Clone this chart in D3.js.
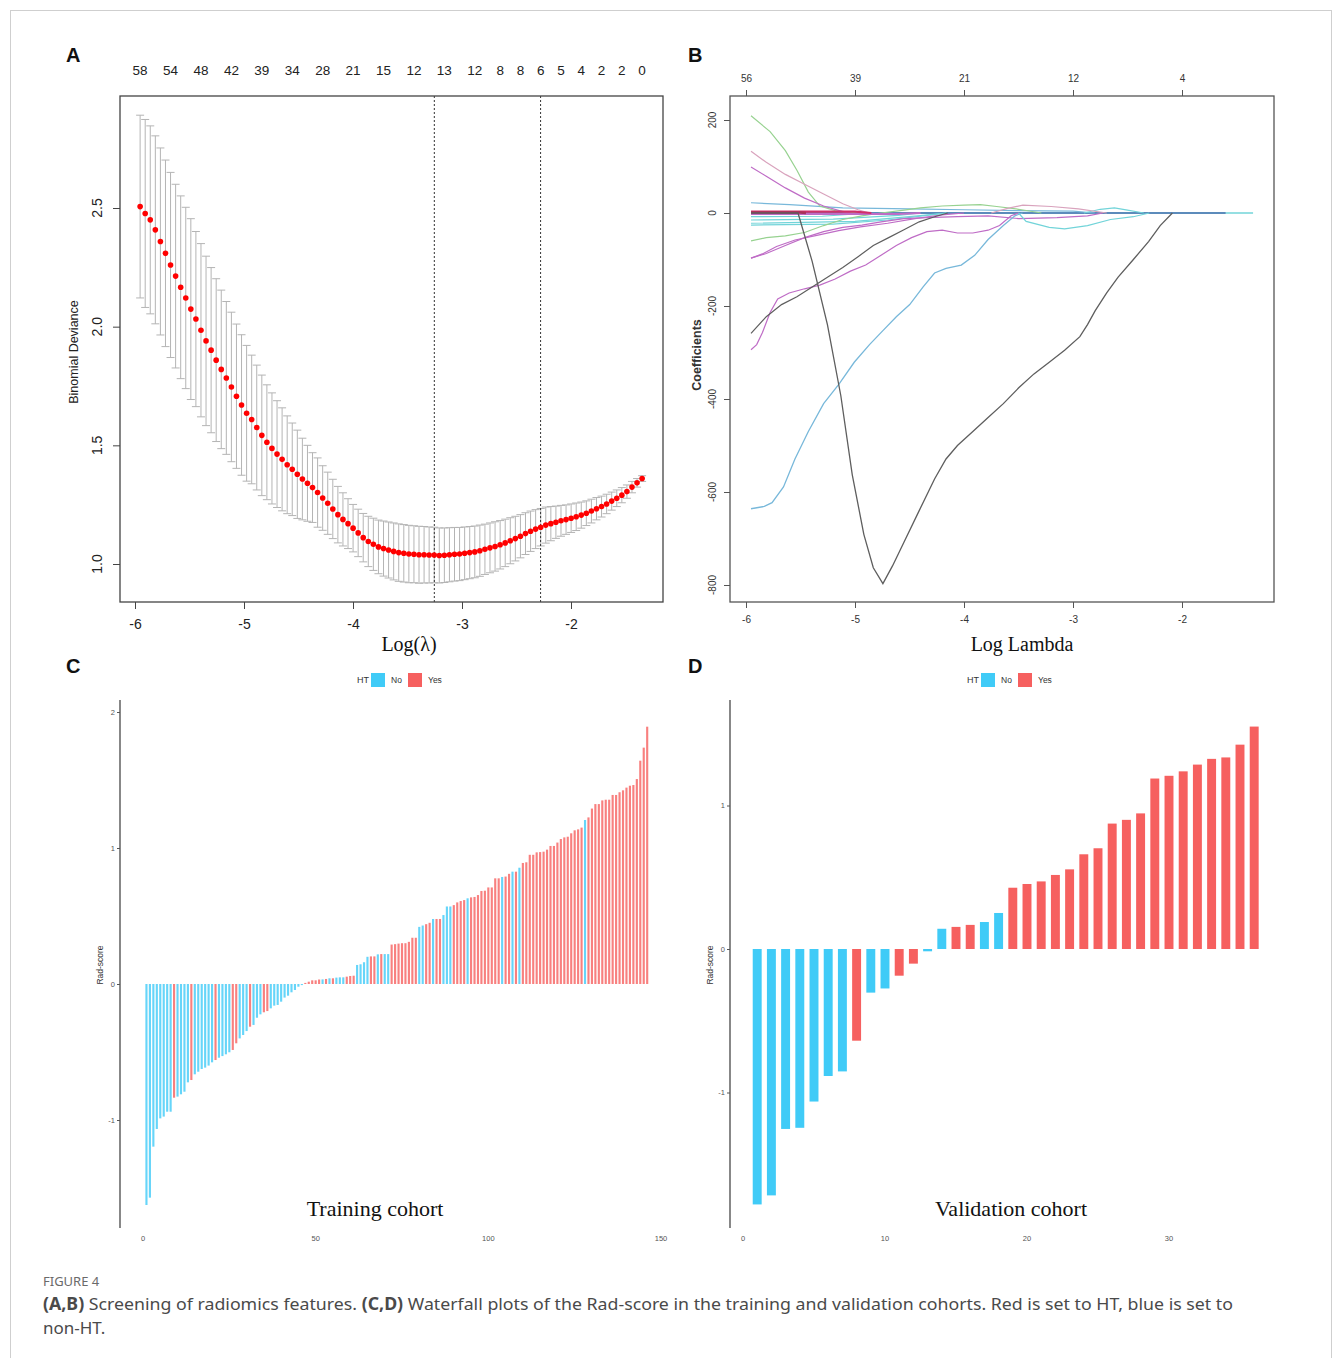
<!DOCTYPE html>
<html>
<head>
<meta charset="utf-8">
<script src="https://cdn.jsdelivr.net/npm/d3@7"></script>
<style>
  body { margin: 0; background: #fff; }
  svg { display: block; }
</style>
</head>
<body>
<svg id="fig" width="1333" height="1358" font-family="Liberation Sans, Arial, sans-serif"></svg>
<script>
// ---- panel A : cross-validated binomial deviance along the lambda path
const lambdaStart = -5.953;
const lambdaStep = 0.04652;
const cvMean = [
  2.506, 2.477, 2.45, 2.408, 2.359, 2.309, 2.26, 2.213, 2.166, 2.121,
  2.074, 2.032, 1.985, 1.94, 1.901, 1.859, 1.82, 1.784, 1.746, 1.707,
  1.67, 1.635, 1.609, 1.575, 1.542, 1.513, 1.487, 1.463, 1.441, 1.418,
  1.399, 1.378, 1.358, 1.34, 1.322, 1.301, 1.278, 1.256, 1.232, 1.208,
  1.188, 1.17, 1.151, 1.131, 1.111, 1.095, 1.083, 1.072, 1.065, 1.059,
  1.053, 1.048, 1.045, 1.042, 1.041, 1.039, 1.039, 1.038, 1.038, 1.036,
  1.037, 1.039, 1.041, 1.042, 1.045, 1.048, 1.051, 1.056, 1.062, 1.068,
  1.074, 1.081, 1.089, 1.098, 1.107, 1.117, 1.128, 1.138, 1.147, 1.155,
  1.164, 1.17, 1.176, 1.182, 1.187, 1.193, 1.199, 1.206, 1.214, 1.223,
  1.233, 1.242, 1.253, 1.265, 1.277, 1.29, 1.305, 1.324, 1.342, 1.36
];
const cvSd = [
  0.385, 0.396, 0.396, 0.396, 0.394, 0.393, 0.39, 0.387, 0.385, 0.382,
  0.381, 0.369, 0.365, 0.357, 0.348, 0.343, 0.334, 0.322, 0.315, 0.304,
  0.296, 0.286, 0.271, 0.263, 0.254, 0.242, 0.234, 0.225, 0.217, 0.206,
  0.195, 0.186, 0.172, 0.16, 0.147, 0.146, 0.136, 0.131, 0.125, 0.119,
  0.112, 0.105, 0.1, 0.1, 0.102, 0.106, 0.11, 0.113, 0.116, 0.118,
  0.12, 0.121, 0.121, 0.121, 0.12, 0.12, 0.119, 0.118, 0.117, 0.116,
  0.115, 0.114, 0.113, 0.112, 0.111, 0.11, 0.109, 0.108, 0.106, 0.105,
  0.104, 0.102, 0.1, 0.097, 0.094, 0.091, 0.088, 0.085, 0.082, 0.079,
  0.076, 0.072, 0.068, 0.065, 0.062, 0.06, 0.058, 0.055, 0.052, 0.05,
  0.047, 0.044, 0.041, 0.038, 0.035, 0.032, 0.028, 0.024, 0.018, 0.012
];
const topIdxA = [0, 6, 12, 18, 24, 30, 36, 42, 48, 54, 60, 66, 71, 75, 79, 83, 87, 91, 95, 99];
const topLabelsA = [58, 54, 48, 42, 39, 34, 28, 21, 15, 12, 13, 12, 8, 8, 6, 5, 4, 2, 2, 0];
const logLambdaMin = -3.254;
const logLambda1se = -2.279;
const xTicksA = [-6, -5, -4, -3, -2];
const yTicksA = [1.0, 1.5, 2.0, 2.5];

// ---- panel B : coefficient paths [log lambda, coefficient]
const xTicksB = [-6, -5, -4, -3, -2];
const yTicksB = [200, 0, -200, -400, -600, -800];
const topLabelsB = [56, 39, 21, 12, 4];

const zeroCyan = [[-5.954, 0], [-1.348, 0]];
const zeroNavy = [[-5.954, 0], [-1.6, 0]];
const pathDip = [[-5.953, 0], [-5.523, 0], [-5.393, -104], [-5.253, -240], [-5.13, -393], [-5.025, -563],
  [-4.919, -691], [-4.832, -763], [-4.744, -797], [-4.656, -759], [-4.551, -708], [-4.411, -640],
  [-4.27, -572], [-4.165, -529], [-4.06, -500], [-3.919, -470], [-3.779, -440], [-3.639, -410],
  [-3.498, -376], [-3.358, -346], [-3.218, -321], [-3.077, -295], [-2.937, -266], [-2.867, -240],
  [-2.796, -210], [-2.691, -172], [-2.586, -138], [-2.446, -100], [-2.305, -61], [-2.2, -27], [-2.088, 0]];
const pathBlueDip = [[-5.954, -636], [-5.832, -631], [-5.761, -623], [-5.656, -589], [-5.551, -529],
  [-5.428, -470], [-5.288, -410], [-5.147, -368], [-5.007, -321], [-4.867, -283], [-4.744, -253],
  [-4.621, -223], [-4.498, -197], [-4.375, -159], [-4.27, -129], [-4.165, -119], [-4.025, -112],
  [-3.902, -91], [-3.779, -57], [-3.639, -27], [-3.533, -6], [-3.463, 0]];
const pathGrayRise = [[-5.954, -259], [-5.814, -223], [-5.674, -197], [-5.533, -180], [-5.393, -159],
  [-5.253, -138], [-5.112, -117], [-4.972, -94], [-4.832, -70], [-4.691, -53], [-4.551, -36],
  [-4.411, -19], [-4.27, -8], [-4.15, 0]];
const pathPurpleLow = [[-5.954, -294], [-5.902, -283], [-5.849, -257], [-5.779, -214], [-5.709, -185],
  [-5.604, -172], [-5.463, -163], [-5.323, -155], [-5.182, -142], [-5.042, -125], [-4.902, -112],
  [-4.761, -91], [-4.621, -70], [-4.481, -53], [-4.34, -40], [-4.2, -37], [-4.06, -43], [-3.919, -43],
  [-3.779, -37], [-3.674, -27], [-3.568, -6], [-3.498, 0]];
const pathGreenHigh = [[-5.954, 209], [-5.779, 175], [-5.639, 134], [-5.533, 92], [-5.428, 45],
  [-5.323, 15], [-5.182, 5], [-5.007, 1], [-4.9, 0]];
const pathPinkHigh = [[-5.954, 133], [-5.814, 109], [-5.639, 83], [-5.463, 62], [-5.288, 41],
  [-5.112, 20], [-4.972, 7], [-4.867, 0]];
const pathPurpleHigh = [[-5.954, 99], [-5.814, 79], [-5.639, 54], [-5.463, 32], [-5.288, 15],
  [-5.112, 3], [-5.04, 0]];
const pathGreenLow = [[-5.954, -60], [-5.814, -53], [-5.639, -49], [-5.463, -42], [-5.288, -27],
  [-5.112, -14], [-4.937, -6], [-4.761, 0], [-4.55, 6], [-4.4, 11], [-4.2, 15], [-4.0, 17],
  [-3.85, 18], [-3.7, 14], [-3.5, 8], [-3.29, 0]];
const pathPurpleMid = [[-5.954, -97], [-5.814, -87], [-5.639, -70], [-5.463, -53], [-5.288, -40],
  [-5.112, -31], [-4.937, -26], [-4.761, -19], [-4.551, -12], [-4.34, -10], [-4.06, -8],
  [-3.779, -6], [-3.498, -12], [-3.147, -10], [-2.867, -6], [-2.726, 0]];
const pathMagentaMid = [[-5.954, -97], [-5.85, -88], [-5.72, -72], [-5.55, -58], [-5.35, -48],
  [-5.15, -38], [-4.95, -30], [-4.7, -22], [-4.45, -12], [-4.2, -4], [-4.0, 0]];
const pathBlueSmall = [[-5.954, 22], [-5.6, 18], [-5.112, 11], [-4.5, 9], [-4.0, 7], [-3.5, 5],
  [-3.0, 4], [-2.8, 0]];
const pathCyan1 = [[-5.954, -8], [-5.3, -7], [-4.86, 0]];
const pathCyan2 = [[-5.954, -15], [-5.2, -13], [-4.6, -5], [-4.4, 0]];
const pathCyan3 = [[-5.954, -22], [-5.0, -18], [-4.5, -8], [-4.16, 0]];
const pathCyan4 = [[-5.954, -26], [-5.2, -24], [-4.7, -15], [-4.3, -4], [-4.16, 0]];
const pathCyanBump = [[-3.5, 0], [-3.43, -18], [-3.218, -31], [-3.077, -34], [-2.867, -27],
  [-2.656, -14], [-2.446, -8], [-2.3, 0]];
const pathCyanPos = [[-2.9, 0], [-2.75, 8], [-2.62, 11], [-2.5, 6], [-2.35, 0]];
const pathPinkLate = [[-3.75, 0], [-3.6, 10], [-3.46, 17], [-3.2, 14], [-2.95, 9], [-2.69, 0]];
const zeroRed = [[-5.954, 3], [-5.0, 3], [-4.85, 0]];
const zeroMagenta = [[-5.954, -2], [-4.6, -2], [-4.4, 0]];
const zeroCrimson = [[-5.954, 1], [-5.5, 1], [-5.45, 0]];

// ---- panel C : training cohort rad-score (sorted)
const trainScore = [
  -1.625, -1.571, -1.196, -1.066, -0.988, -0.975, -0.939, -0.939, -0.836, -0.828,
  -0.811, -0.792, -0.723, -0.706, -0.664, -0.645, -0.625, -0.615, -0.6, -0.576,
  -0.559, -0.542, -0.53, -0.517, -0.502, -0.485, -0.436, -0.4, -0.375, -0.346,
  -0.314, -0.301, -0.248, -0.223, -0.208, -0.199, -0.179, -0.159, -0.154, -0.13,
  -0.1, -0.086, -0.061, -0.044, -0.02, -0.008, 0.008, 0.017, 0.027, 0.027,
  0.033, 0.034, 0.037, 0.042, 0.042, 0.047, 0.049, 0.049, 0.054, 0.059,
  0.061, 0.14, 0.145, 0.16, 0.2, 0.203, 0.203, 0.218, 0.22, 0.22,
  0.22, 0.29, 0.293, 0.297, 0.3, 0.3, 0.31, 0.34, 0.34, 0.42,
  0.43, 0.44, 0.45, 0.478, 0.478, 0.478, 0.507, 0.57, 0.57, 0.58,
  0.6, 0.61, 0.617, 0.63, 0.637, 0.64, 0.654, 0.684, 0.686, 0.71,
  0.71, 0.777, 0.777, 0.787, 0.79, 0.81, 0.826, 0.826, 0.855, 0.89,
  0.895, 0.95, 0.95, 0.968, 0.97, 0.973, 0.988, 1.015, 1.015, 1.04,
  1.066, 1.078, 1.083, 1.108, 1.13, 1.137, 1.15, 1.206, 1.225, 1.29,
  1.323, 1.323, 1.35, 1.355, 1.355, 1.39, 1.39, 1.41, 1.424, 1.444,
  1.458, 1.463, 1.507, 1.642, 1.738, 1.892
];
const trainHTcode = "NNNNNNNN" + "Y" + "NNNN" + "Y" + "NNNNNN" + "Y" + "NNNN" + "YY" + "NNN" + "Y" +
  "NNN" + "YY" + "NNNNNNNNNN" + "YYYYY" + "N" + "Y" + "N" + "Y" + "NNN" + "YYY" + "NNNN" + "YY" +
  "N" + "Y" + "NN" + "YYYYYYYY" + "NN" + "YY" + "N" + "YY" + "NNN" + "YYYY" + "N" + "YYYYYYYYY" +
  "N" + "YY" + "N" + "Y" + "N" + "YYYYYYYYYYYYYYYYYY" + "N" + "YYYYYYYYYYYYYYYYYY";
const trainHT = trainHTcode.split("").map(c => c === "Y" ? "Yes" : "No");
const xTicksC = [0, 50, 100, 150];
const yTicksC = [-1, 0, 1, 2];

// ---- panel D : validation cohort rad-score (sorted)
const validScore = [
  -1.78, -1.717, -1.254, -1.246, -1.063, -0.885, -0.853, -0.639, -0.304, -0.275,
  -0.186, -0.102, -0.016, 0.141, 0.154, 0.168, 0.188, 0.251, 0.427, 0.453,
  0.471, 0.516, 0.555, 0.66, 0.702, 0.874, 0.9, 0.945, 1.188, 1.207,
  1.238, 1.285, 1.325, 1.335, 1.424, 1.55
];
const validHTcode = "NNNNNNN" + "Y" + "NN" + "YY" + "NN" + "YY" + "NN" + "YYYYYYYYYYYYYYYYYY";
const validHT = validHTcode.split("").map(c => c === "Y" ? "Yes" : "No");
const xTicksD = [0, 10, 20, 30];
const yTicksD = [-1, 0, 1];

const htLevels = ["No", "Yes"];
const htColor = d3.scaleOrdinal().domain(htLevels).range(["#40cbf7", "#f6605f"]);

const SERIF = "Liberation Serif, Times New Roman, serif";
const svg = d3.select("#fig");

// figure frame
svg.append("rect").attr("x", 10.5).attr("y", 10.5).attr("width", 1321).attr("height", 1370)
  .attr("fill", "none").attr("stroke", "#cfcfcf");

function panelLetter(x, y, s) {
  svg.append("text").attr("x", x).attr("y", y).text(s)
    .attr("font-size", 20).attr("font-weight", "bold").attr("fill", "#111");
}

function drawPanelA() {
  const x = d3.scaleLinear().domain([-6, -2]).range([135, 571]);
  const y = d3.scaleLinear().domain([1, 2.5]).range([564, 208]);
  const g = svg.append("g");
  const logLambda = d3.range(cvMean.length).map(k => lambdaStart + k * lambdaStep);
  const cv = cvMean.map((m, k) => ({ lx: logLambda[k], m: m, sd: cvSd[k] }));

  let eb = g.append("g").attr("stroke", "#b4b4b4").attr("stroke-width", 1);
  eb.selectAll("line.v").data(cv).join("line").attr("class", "v")
    .attr("x1", d => x(d.lx)).attr("x2", d => x(d.lx))
    .attr("y1", d => y(d.m + d.sd)).attr("y2", d => y(d.m - d.sd));
  eb.selectAll("line.up").data(cv).join("line").attr("class", "up")
    .attr("x1", d => x(d.lx) - 4).attr("x2", d => x(d.lx) + 4)
    .attr("y1", d => y(d.m + d.sd)).attr("y2", d => y(d.m + d.sd));
  eb.selectAll("line.lo").data(cv).join("line").attr("class", "lo")
    .attr("x1", d => x(d.lx) - 4).attr("x2", d => x(d.lx) + 4)
    .attr("y1", d => y(d.m - d.sd)).attr("y2", d => y(d.m - d.sd));

  g.selectAll("line.vl").data([logLambdaMin, logLambda1se]).join("line").attr("class", "vl")
    .attr("x1", d => x(d)).attr("x2", d => x(d)).attr("y1", 96).attr("y2", 602)
    .attr("stroke", "#333").attr("stroke-width", 1).attr("stroke-dasharray", "2,2");

  g.selectAll("circle").data(cv).join("circle")
    .attr("cx", d => x(d.lx)).attr("cy", d => y(d.m)).attr("r", 2.8).attr("fill", "#f00");

  g.append("rect").attr("x", 120).attr("y", 96).attr("width", 543).attr("height", 506)
    .attr("fill", "none").attr("stroke", "#444").attr("stroke-width", 1.3);

  let ax = g.append("g").attr("transform", "translate(0,602)")
    .call(d3.axisBottom(x).tickValues(xTicksA).tickSize(7).tickPadding(10).tickFormat(d => String(d)));
  ax.select(".domain").remove();
  ax.selectAll("line").attr("stroke", "#444");
  ax.selectAll("text").attr("font-size", 14).attr("fill", "#222")
    .attr("font-family", "Liberation Sans, Arial, sans-serif");

  let ay = g.append("g").attr("transform", "translate(120,0)")
    .call(d3.axisLeft(y).tickValues(yTicksA).tickSize(7).tickFormat(() => ""));
  ay.select(".domain").remove();
  ay.selectAll("line").attr("stroke", "#444");
  g.selectAll("text.yl").data(yTicksA).join("text").attr("class", "yl")
    .attr("transform", d => "translate(102," + y(d) + ") rotate(-90)")
    .attr("text-anchor", "middle").attr("font-size", 14).attr("fill", "#222")
    .text(d => d.toFixed(1));

  g.selectAll("text.top").data(topIdxA).join("text").attr("class", "top")
    .attr("x", d => x(logLambda[d])).attr("y", 75).attr("text-anchor", "middle")
    .attr("font-size", 13.5).attr("fill", "#222")
    .text((d, i) => topLabelsA[i]);

  g.append("text").attr("transform", "translate(78,352) rotate(-90)")
    .attr("text-anchor", "middle").attr("font-size", 12.5).attr("fill", "#222")
    .text("Binomial Deviance");
  g.append("text").attr("x", 409).attr("y", 651).attr("text-anchor", "middle")
    .attr("font-family", SERIF).attr("font-size", 20)
    .attr("fill", "#111").text("Log(λ)");
}

function drawPanelB() {
  const x = d3.scaleLinear().domain([-6, -2]).range([746, 1182]);
  const y = d3.scaleLinear().domain([-800, 200]).range([585, 120]);
  const g = svg.append("g");
  const colBlack = "#5e5e5e", colBlue = "#78b8da", colPurple = "#bf6cc6", colGreen = "#97d290",
    colPink = "#d9a3bd", colCyan = "#72d4d9", colCrimson = "#d0306a", colNavy = "#4a6fae";
  const paths = [
    { pts: zeroCyan, col: colCyan, w: 1.3 }, { pts: zeroNavy, col: colNavy, w: 1.3 },
    { pts: pathCyan1, col: colCyan, w: 1.2 }, { pts: pathCyan2, col: colCyan, w: 1.2 },
    { pts: pathCyan3, col: colCyan, w: 1.2 }, { pts: pathCyan4, col: colCyan, w: 1.2 },
    { pts: pathBlueSmall, col: colBlue, w: 1.2 }, { pts: pathGreenHigh, col: colGreen, w: 1.2 },
    { pts: pathPinkHigh, col: colPink, w: 1.2 }, { pts: pathPurpleHigh, col: colPurple, w: 1.2 },
    { pts: pathGreenLow, col: colGreen, w: 1.2 }, { pts: pathPurpleMid, col: colPurple, w: 1.2 },
    { pts: pathMagentaMid, col: colPurple, w: 1.2 }, { pts: pathPurpleLow, col: colPurple, w: 1.2 },
    { pts: pathGrayRise, col: colBlack, w: 1.2 }, { pts: pathBlueDip, col: colBlue, w: 1.3 },
    { pts: pathCyanBump, col: colCyan, w: 1.2 }, { pts: pathCyanPos, col: colCyan, w: 1.2 },
    { pts: pathPinkLate, col: colPink, w: 1.2 }, { pts: zeroMagenta, col: colPurple, w: 2 },
    { pts: zeroRed, col: colCrimson, w: 2.2 }, { pts: zeroCrimson, col: "#a8325a", w: 2.4 },
    { pts: pathDip, col: colBlack, w: 1.3 }
  ];
  const line = d3.line().x(d => x(d[0])).y(d => y(d[1])).curve(d3.curveLinear);

  g.append("clipPath").attr("id", "clipB").append("rect")
    .attr("x", 730).attr("y", 96).attr("width", 544).attr("height", 506);
  g.append("g").attr("clip-path", "url(#clipB)")
    .selectAll("path").data(paths).join("path")
    .attr("d", d => line(d.pts)).attr("fill", "none")
    .attr("stroke", d => d.col).attr("stroke-width", d => d.w);

  g.append("rect").attr("x", 730).attr("y", 96).attr("width", 544).attr("height", 506)
    .attr("fill", "none").attr("stroke", "#555").attr("stroke-width", 1.3);

  let ax = g.append("g").attr("transform", "translate(0,602)")
    .call(d3.axisBottom(x).tickValues(xTicksB).tickSize(6).tickPadding(8).tickFormat(d => String(d)));
  ax.select(".domain").remove();
  ax.selectAll("line").attr("stroke", "#555");
  ax.selectAll("text").attr("font-size", 10).attr("fill", "#333")
    .attr("font-family", "Liberation Sans, Arial, sans-serif");

  let at = g.append("g").attr("transform", "translate(0,96)")
    .call(d3.axisTop(x).tickValues(xTicksB).tickSize(6).tickPadding(8)
      .tickFormat((d, i) => topLabelsB[i]));
  at.select(".domain").remove();
  at.selectAll("line").attr("stroke", "#555");
  at.selectAll("text").attr("font-size", 10).attr("fill", "#333")
    .attr("font-family", "Liberation Sans, Arial, sans-serif");

  let ay = g.append("g").attr("transform", "translate(730,0)")
    .call(d3.axisLeft(y).tickValues(yTicksB).tickSize(6).tickFormat(() => ""));
  ay.select(".domain").remove();
  ay.selectAll("line").attr("stroke", "#555");
  g.selectAll("text.yl").data(yTicksB).join("text").attr("class", "yl")
    .attr("transform", d => "translate(716," + y(d) + ") rotate(-90)")
    .attr("text-anchor", "middle").attr("font-size", 10).attr("fill", "#333")
    .text(d => String(d));

  g.append("text").attr("transform", "translate(701,355) rotate(-90)")
    .attr("text-anchor", "middle").attr("font-size", 12.5).attr("font-weight", "bold")
    .attr("fill", "#333").text("Coefficients");
  g.append("text").attr("x", 1022).attr("y", 651).attr("text-anchor", "middle")
    .attr("font-family", SERIF).attr("font-size", 20)
    .attr("fill", "#111").text("Log Lambda");
}

function drawWaterfall(o) {
  const x = d3.scaleLinear().domain(o.xDom).range(o.xRange);
  const y = d3.scaleLinear().domain(o.yDom).range(o.yRange);
  const g = svg.append("g");
  const bw = (x(1) - x(0)) * o.barFrac;
  const bars = o.scores.map((v, i) => ({ i: i + 1, v: v, ht: o.groups[i] }));

  g.selectAll("rect.bar").data(bars).join("rect").attr("class", "bar")
    .attr("x", d => x(d.i) - bw / 2).attr("width", bw)
    .attr("y", d => y(Math.max(0, d.v))).attr("height", d => Math.abs(y(d.v) - y(0)))
    .attr("fill", d => htColor(d.ht)).attr("fill-opacity", o.barOpacity);

  // axis line spans the whole panel height
  g.append("line").attr("x1", o.axisX).attr("x2", o.axisX).attr("y1", 700).attr("y2", 1228)
    .attr("stroke", "#555").attr("stroke-width", 1.4);
  let ay = g.append("g").attr("transform", "translate(" + o.axisX + ",0)")
    .call(d3.axisLeft(y).tickValues(o.yTicks).tickSize(3).tickPadding(2).tickFormat(d => String(d)));
  ay.select(".domain").remove();
  ay.selectAll("line").attr("stroke", "#555");
  ay.selectAll("text").attr("font-size", 7.5).attr("fill", "#555")
    .attr("font-family", "Liberation Sans, Arial, sans-serif");

  g.selectAll("text.xl").data(o.xTicks).join("text").attr("class", "xl")
    .attr("x", d => x(d)).attr("y", 1241).attr("text-anchor", "middle")
    .attr("font-size", 7.5).attr("fill", "#555").text(d => String(d));

  g.append("text").attr("transform", "translate(" + (o.axisX - 17) + ",965) rotate(-90)")
    .attr("text-anchor", "middle").attr("font-size", 8.5).attr("fill", "#333").text("Rad-score");

  g.append("text").attr("x", o.titleX).attr("y", 1216).attr("text-anchor", "middle")
    .attr("font-family", SERIF).attr("font-size", 22)
    .attr("fill", "#111").text(o.title);

  // legend
  let lg = g.append("g").attr("transform", "translate(" + o.legendX + ",673)");
  lg.append("text").attr("x", 0).attr("y", 10).attr("font-size", 9).attr("fill", "#333").text("HT");
  htLevels.forEach(function (lev, k) {
    let ox = 14 + k * 37;
    lg.append("rect").attr("x", ox).attr("y", 0).attr("width", 14).attr("height", 14)
      .attr("fill", htColor(lev));
    lg.append("text").attr("x", ox + 20).attr("y", 10).attr("font-size", 8.5)
      .attr("fill", "#333").text(lev);
  });
}

panelLetter(66, 62, "A");
panelLetter(688, 62, "B");
panelLetter(66, 673, "C");
panelLetter(688, 673, "D");

drawPanelA();
drawPanelB();

drawWaterfall({
  scores: trainScore, groups: trainHT, xDom: [0, 150], xRange: [143, 661],
  yDom: [-1, 2], yRange: [1120, 712], axisX: 120, xTicks: xTicksC, yTicks: yTicksC,
  barFrac: 0.62, barOpacity: 0.8, title: "Training cohort", titleX: 375, legendX: 357
});
drawWaterfall({
  scores: validScore, groups: validHT, xDom: [0, 30], xRange: [743, 1169],
  yDom: [-1, 1], yRange: [1092.5, 805.5], axisX: 730, xTicks: xTicksD, yTicks: yTicksD,
  barFrac: 0.63, barOpacity: 1, title: "Validation cohort", titleX: 1011, legendX: 967
});

// caption
const cap = svg.append("g").attr("font-family", "Noto Sans, Open Sans, sans-serif");
cap.append("text").attr("x", 43).attr("y", 1286).attr("font-size", 13).attr("fill", "#6a6a6a")
  .text("FIGURE 4");
let l1 = cap.append("text").attr("x", 43).attr("y", 1310).attr("font-size", 17).attr("fill", "#4a4a4a")
  .attr("textLength", 1190).attr("lengthAdjust", "spacingAndGlyphs");
l1.append("tspan").attr("font-weight", "bold").text("(A,B)");
l1.append("tspan").text(" Screening of radiomics features. ");
l1.append("tspan").attr("font-weight", "bold").text("(C,D)");
l1.append("tspan").text(" Waterfall plots of the Rad-score in the training and validation cohorts. Red is set to HT, blue is set to");
cap.append("text").attr("x", 43).attr("y", 1334).attr("font-size", 17).attr("fill", "#4a4a4a")
  .text("non-HT.");
</script>
</body>
</html>
